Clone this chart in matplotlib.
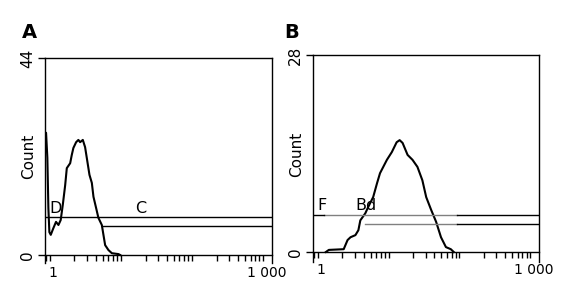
import numpy as np
import matplotlib
matplotlib.use('Agg')
import matplotlib.pyplot as plt
from matplotlib.ticker import LogLocator, NullFormatter, FixedLocator, FixedFormatter

# panel A histogram (fluorescence, count)
a_fl = [0.77, 0.797, 0.831, 0.859, 0.887, 0.928, 1.01, 1.10, 1.19, 1.28, 1.37,
        1.48, 1.56, 1.74, 1.83, 1.93, 2.11, 2.27, 2.40, 2.62, 2.82, 2.98, 3.25,
        3.51, 3.70, 4.03, 4.34, 4.85, 5.11, 5.40, 6.01, 6.71, 8.31, 8.79]
a_count = [27.3, 27.3, 21.7, 10.5, 5.1, 4.5, 6.0, 7.4, 6.7, 7.8, 11.2,
           15.6, 19.4, 20.5, 22.3, 23.9, 25.2, 25.7, 25.2, 25.7, 24.1, 21.7, 17.9,
           16.1, 13.0, 10.5, 8.3, 6.7, 4.5, 2.2, 1.1, 0.4, 0.2, 0.0]

# panel B histogram
b_fl = [1.17, 1.29, 2.09, 2.37, 2.61, 3.06, 3.37, 3.59, 4.22, 4.64, 5.45,
        6.19, 6.81, 8.52, 10.0, 11.7, 12.9, 14.2, 16.7, 19.6, 23.0, 27.0,
        30.6, 35.9, 42.2, 49.5, 58.1, 68.1, 75.0]
b_count = [0.0, 0.3, 0.4, 1.7, 2.1, 2.4, 3.1, 4.5, 5.5, 6.4, 7.8,
           9.8, 11.2, 13.1, 14.2, 15.6, 15.9, 15.5, 13.8, 13.1, 12.1, 10.2,
           7.8, 6.0, 4.3, 2.1, 0.7, 0.4, 0.0]

# gates: (start, level)
a_gates = {'D': (0.77, 8.5), 'C': (5.06, 6.5)}
b_gates = {'F': (0.77, 5.3), 'Bd': (4.22, 4.0)}
b_grey_start = 1.10
b_grey_end = 82.6

xlo, xhi = 0.77, 1200
x_ticks = [1, 1000]
x_ticklabels = ['1', '1 000']

fig = plt.figure(figsize=(5.71, 3.03), dpi=100)
axA = fig.add_axes([45/571, 1-263/303, 227/571, 205/303])
axB = fig.add_axes([313/571, 1-262/303, 226/571, 207/303])


def setup(ax, ymax, ymin):
    ax.set_xscale('log')
    ax.set_xlim(xlo, xhi)
    ax.set_ylim(ymin, ymax)
    ax.spines['bottom'].set_position(('data', 0))
    for s in ax.spines.values():
        s.set_linewidth(1.0)
    ax.xaxis.set_major_locator(FixedLocator(x_ticks))
    ax.xaxis.set_major_formatter(FixedFormatter(x_ticklabels))
    ax.xaxis.set_minor_locator(LogLocator(base=10, subs=np.arange(2, 10)))
    ax.xaxis.set_minor_formatter(NullFormatter())
    ax.tick_params(axis='x', which='major', length=0, pad=8, labelsize=10)
    ax.tick_params(axis='x', which='minor', length=4, width=1)
    ax.set_yticks([0, ymax])
    ax.set_yticklabels(['0', str(ymax)], rotation=90, va='center')
    ax.tick_params(axis='y', length=5, width=1, pad=2, labelsize=11)
    ax.set_ylabel('Count', fontsize=11)
    ax.yaxis.set_label_coords(-0.04, 0.52)


setup(axA, 44, -1.79)
axA.plot(a_fl, a_count, color='black', lw=1.5)
for name, (x0, y0) in a_gates.items():
    axA.plot([x0, xhi], [y0, y0], color='black', lw=1.0)
axA.text(1.07, 8.8, 'D', fontsize=11.5, ha='center', va='bottom')
axA.text(16.8, 8.8, 'C', fontsize=11.5, ha='center', va='bottom')
axA.text(-0.101, 1.098, 'A', transform=axA.transAxes, fontsize=14,
         fontweight='bold', ha='left', va='baseline')

setup(axB, 28, -1.42)
axB.plot(b_fl, b_count, color='black', lw=1.5)
for name, (x0, y0) in b_gates.items():
    start = x0 if name == 'Bd' else b_grey_start
    axB.plot([start, b_grey_end], [y0, y0], color='#808080', lw=1.0)
    axB.plot([b_grey_end, xhi], [y0, y0], color='black', lw=1.0)
    if name == 'F':
        axB.plot([xlo, b_grey_start], [y0, y0], color='black', lw=1.0)
axB.text(1.03, 5.5, 'F', fontsize=11.5, ha='center', va='bottom')
axB.text(4.36, 5.5, 'Bd', fontsize=11.5, ha='center', va='bottom')
axB.text(-0.128, 1.082, 'B', transform=axB.transAxes, fontsize=14,
         fontweight='bold', ha='left', va='baseline')

fig.savefig('out.png', dpi=100)
